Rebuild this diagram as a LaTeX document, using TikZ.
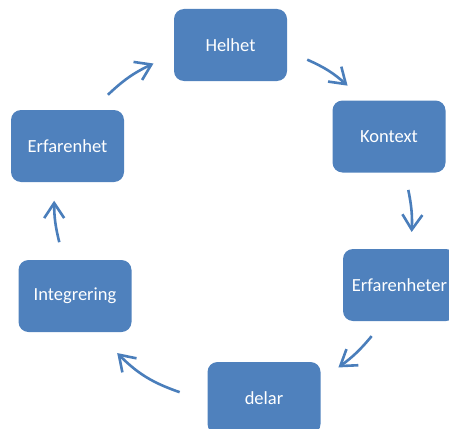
\documentclass[tikz,border=0pt]{standalone}
\usepackage{fontspec}
\setmainfont{Carlito}
\usetikzlibrary{positioning,calc,arrows.meta}
\definecolor{boxblue}{HTML}{4F81BD}
\definecolor{arrowblue}{HTML}{4A7EBB}
\tikzset{font=\fontsize{18.5}{22}\selectfont}

\begin{document}
\begin{tikzpicture}[x=1pt, y=1pt]
	\useasboundingbox (0,-428) rectangle (449,0);
	\begin{scope}
		\tikzstyle{every node}=[rectangle, rounded corners=10pt, fill=boxblue, text=white, minimum width=113pt, minimum height=72pt, inner sep=0pt]
		\tikzstyle{cyc}=[draw=arrowblue, line width=2.6pt, -{Straight Barb[length=15pt, width=20pt]}]
		\node (helhet)  at (230.5, -45)  {Helhet};
		\node (kontext) at (389, -136.5) {Kontext};
		\node (erfter)  at (399.5, -285) {Erfarenheter};
		\node (delar)   at (264, -398)   {delar};
		\node (integr)  at (75, -296)    {Integrering};
		\node (erfhet)  at (67.5, -146)  {Erfarenhet};

		\coordinate (c)  at (232, -221);
		\coordinate (a1) at ($(c)+(65:178)$);
		\coordinate (b1) at ($(c)+(49.5:178)$);
		\coordinate (a2) at ($(c)+(10:179)$);
		\coordinate (b2) at ($(c)+(-3.5:180)$);
		\coordinate (a3) at ($(c)+(-39.5:181)$);
		\coordinate (b3) at ($(c)+(-54:181)$);
		\coordinate (a4) at ($(c)+(-107:179)$);
		\coordinate (b4) at ($(c)+(-131:175)$);
		\coordinate (a5) at ($(c)+(187:174)$);
		\coordinate (b5) at ($(c)+(173.5:179)$);
		\coordinate (a6) at ($(c)+(134.5:177)$);
		\coordinate (b6) at ($(c)+(116.5:176)$);

		\draw[cyc] (a1) to[bend left=9]  (b1);
		\draw[cyc] (a2) to[bend left=7]  (b2);
		\draw[cyc] (a3) to[bend left=7]  (b3);
		\draw[cyc] (a4) to[bend left=13] (b4);
		\draw[cyc] (a5) to[bend left=7]  (b5);
		\draw[cyc] (a6) to[bend left=9]  (b6);
	\end{scope}
\end{tikzpicture}
\end{document}
